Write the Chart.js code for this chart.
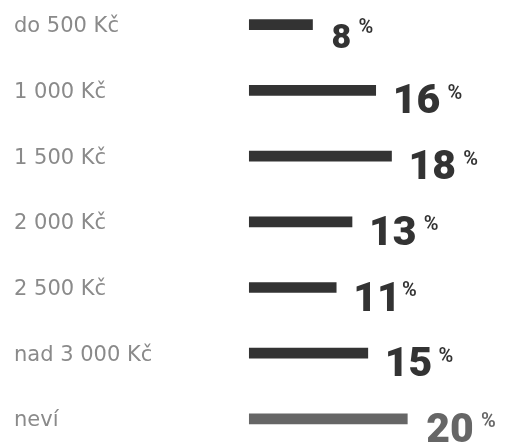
<!DOCTYPE html>
<html>
<head>
<meta charset="utf-8">
<script src="https://cdn.jsdelivr.net/npm/chart.js@4.4.1/dist/chart.umd.min.js"></script>
<style>
  html, body { margin: 0; padding: 0; background: #ffffff; }
  #wrap { width: 514px; height: 444px; position: relative; }
</style>
</head>
<body>
<div id="wrap"><canvas id="c"></canvas></div>
<script>
const categories = ['do 500 Kč', '1 000 Kč', '1 500 Kč', '2 000 Kč', '2 500 Kč', 'nad 3 000 Kč', 'neví'];
const values = [8, 16, 18, 13, 11, 15, 20];
const unitLabel = '%';

const DARK = '#333333';
const GREY = '#666666';
const colorFor = i => (i === values.length - 1 ? GREY : DARK);

const valueLabels = {
  id: 'valueLabels',
  afterDatasetsDraw(chart) {
    const ctx = chart.ctx;
    const meta = chart.getDatasetMeta(0);
    ctx.save();
    meta.data.forEach((bar, i) => {
      const v = values[i];
      const txt = String(v);
      const size = v < 10 ? 34 : 41;
      ctx.font = '900 ' + size + 'px Roboto';
      ctx.fillStyle = colorFor(i);
      ctx.textAlign = 'left';
      ctx.textBaseline = 'alphabetic';
      const m = ctx.measureText(txt);
      const inkLeft = bar.x + 20;
      const ox = inkLeft + m.actualBoundingBoxLeft;
      const baseY = bar.y + 23;
      ctx.fillText(txt, ox, baseY);
      const inkRight = ox + m.actualBoundingBoxRight;
      ctx.font = '600 20px Roboto';
      const pm = ctx.measureText(unitLabel);
      const px = inkRight + 8 + pm.actualBoundingBoxLeft;
      ctx.fillText(unitLabel, px, bar.y + 8.5);
    });
    ctx.restore();
  }
};

new Chart(document.getElementById('c'), {
  type: 'bar',
  data: {
    labels: categories,
    datasets: [{
      data: values,
      backgroundColor: ctx => colorFor(ctx.dataIndex),
      barThickness: 10,
      borderWidth: 0,
      borderSkipped: false,
      clip: false
    }]
  },
  options: {
    indexAxis: 'y',
    responsive: true,
    maintainAspectRatio: false,
    animation: false,
    layout: { padding: { left: 14, top: 24.7, bottom: 25.1, right: 27.7 } },
    plugins: { legend: { display: false }, tooltip: { enabled: false } },
    scales: {
      x: { display: false, min: 0, max: 30 },
      y: {
        offset: false,
        grid: { display: false, drawTicks: false },
        border: { display: false },
        ticks: {
          crossAlign: 'far',
          padding: 0,
          labelOffset: 2,
          color: '#8a8a8a',
          font: { family: 'DejaVu Sans', size: 21, weight: 'normal' }
        },
        afterFit(scale) { scale.width = 235.3; }
      }
    }
  },
  plugins: [valueLabels]
});
</script>
</body>
</html>
